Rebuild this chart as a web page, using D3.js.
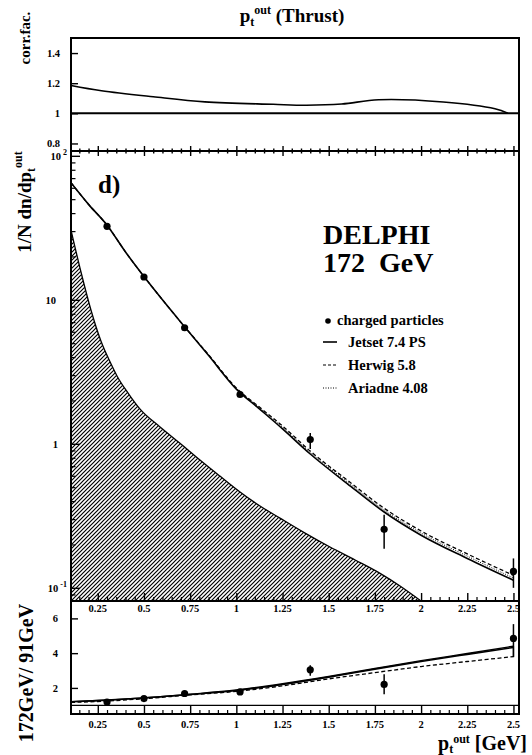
<!DOCTYPE html>
<html>
<head>
<meta charset="utf-8">
<script src="https://cdnjs.cloudflare.com/ajax/libs/d3/7.8.5/d3.min.js"></script>
<style>
  body { margin: 0; background: #fff; }
  svg text { font-family: "Liberation Serif", "DejaVu Serif", serif; font-weight: bold; fill: #000; }
</style>
</head>
<body>
<div id="chart"></div>
<script>
// ---- data ----

// correction factor (top panel)
var corrX = [0.105, 0.27, 0.55, 0.83, 1.2, 1.38, 1.57, 1.77, 2.12, 2.4, 2.47];
var corrY = [1.185, 1.15, 1.11, 1.076, 1.06, 1.054, 1.062, 1.09, 1.075, 1.03, 1.0];

// measured points, charged particles
var ptX      = [0.3, 0.5, 0.72, 1.02, 1.4, 1.8, 2.5];
var dataY    = [32.4, 14.4, 6.4, 2.2, 1.07, 0.255, 0.13];
var dataLo   = [31.5, 14.0, 6.2, 2.13, 0.92, 0.187, 0.10];
var dataHi   = [33.3, 14.8, 6.6, 2.27, 1.19, 0.322, 0.16];

// model curves (main panel)
var curveX   = [0.105, 0.2, 0.3, 0.4, 0.5, 0.6, 0.72, 0.85, 1.0, 1.12, 1.25, 1.4, 1.6, 1.8, 2.0, 2.25, 2.5];
var jetsetY  = [65, 46, 33, 21.5, 14.5, 10, 6.5, 4.1, 2.4, 1.77, 1.27, 0.85, 0.53, 0.336, 0.232, 0.16, 0.113];
var herwigY  = [65, 46, 33, 21.5, 14.5, 10, 6.5, 4.15, 2.44, 1.82, 1.33, 0.89, 0.56, 0.357, 0.248, 0.172, 0.122];
var ariadneY = [65, 46, 33, 21.5, 14.5, 10, 6.5, 4.12, 2.42, 1.8, 1.3, 0.87, 0.545, 0.346, 0.24, 0.166, 0.117];

// hatched contribution
var hatchX = [0.105, 0.159, 0.213, 0.267, 0.322, 0.354, 0.414, 0.479, 0.587, 0.695, 0.803, 0.911, 1.02,
              1.128, 1.236, 1.372, 1.507, 1.643, 1.778, 1.886, 2.0];
var hatchY = [30.5, 15.6, 8.5, 5.17, 3.58, 2.96, 2.25, 1.74, 1.31, 1.01, 0.772, 0.597, 0.463,
              0.370, 0.305, 0.24, 0.192, 0.156, 0.126, 0.103, 0.081];

// ratio 172 GeV / 91 GeV
var ratioY   = [1.19, 1.39, 1.68, 1.77, 3.04, 2.2, 4.85];
var ratioLo  = [1.12, 1.33, 1.60, 1.68, 2.7, 1.64, 3.77];
var ratioHi  = [1.26, 1.45, 1.76, 1.86, 3.3, 2.79, 5.67];
var ratioCurveX = [0.105, 0.25, 0.5, 0.75, 1.0, 1.25, 1.5, 1.75, 2.0, 2.25, 2.5];
var jetRatio    = [1.2, 1.27, 1.42, 1.62, 1.85, 2.2, 2.62, 3.08, 3.52, 3.93, 4.33];
var ariRatio    = [1.21, 1.28, 1.43, 1.64, 1.88, 2.24, 2.66, 3.12, 3.57, 3.98, 4.4];
var herRatio    = [1.17, 1.22, 1.38, 1.6, 1.8, 2.12, 2.52, 2.88, 3.23, 3.52, 3.8];

// ticks and labels
var xMajor      = [0.25, 0.5, 0.75, 1, 1.25, 1.5, 1.75, 2, 2.25, 2.5];
var xLabels     = ["0.25", "0.5", "0.75", "1", "1.25", "1.5", "1.75", "2", "2.25", "2.5"];
var corrTicks   = [0.8, 1, 1.2, 1.4];
var corrLabels  = ["0.8", "1", "1.2", "1.4"];
var mainTicks   = [0.1, 1, 10, 100];
var mainBase    = ["10", "1", "10", "10"];
var mainSup     = ["-1", "", "", "2"];
var ratioTicks  = [2, 4, 6];
var ratioLabels = ["2", "4", "6"];

var xMinor = d3.range(0.15, 2.52, 0.05).filter(function(v) {
  return Math.abs(v / 0.25 - Math.round(v / 0.25)) > 0.01;
});
var logMinor = [];
[0.01, 0.1, 1, 10].forEach(function(dec) {
  d3.range(2, 10).forEach(function(m) {
    var v = dec * m;
    if (v > 0.081 && v < 108) logMinor.push(v);
  });
});

// ---- scales ----
var x     = d3.scaleLinear().domain([0.105, 2.53]).range([71, 519]);
var yCorr = d3.scaleLinear().domain([0.75, 1.5]).range([151, 38]);
var yMain = d3.scaleLog().domain([0.081, 108]).range([601, 151]);
var yRat  = d3.scaleLinear().domain([0.5, 7]).range([714, 601]);

var svg = d3.select("#chart")
            .append("svg")
            .attr("width", 532)
            .attr("height", 755);

var defs = svg.append("defs");

// hatching
defs.append("pattern")
    .attr("id", "hatch")
    .attr("patternUnits", "userSpaceOnUse")
    .attr("width", 4)
    .attr("height", 4)
  .append("path")
    .attr("d", "M-1,1 l2,-2 M0,4 l4,-4 M3,5 l2,-2")
    .attr("stroke", "#000")
    .attr("stroke-width", 1.2);

defs.append("clipPath").attr("id", "clipMain")
  .append("rect").attr("x", 71).attr("y", 151).attr("width", 448).attr("height", 450);

// ---- top panel ----
var corrLine = d3.line()
                 .x(function(d) { return x(d[0]); })
                 .y(function(d) { return yCorr(d[1]); })
                 .curve(d3.curveCatmullRom);

svg.append("path")
    .datum([[0.105, 1], [2.53, 1]])
    .attr("d", corrLine)
    .attr("fill", "none")
    .attr("stroke", "#000")
    .attr("stroke-width", 2);

svg.append("path")
    .datum(d3.zip(corrX, corrY))
    .attr("d", corrLine)
    .attr("fill", "none")
    .attr("stroke", "#000")
    .attr("stroke-width", 1.6);

// ---- main panel ----
var main = svg.append("g").attr("clip-path", "url(#clipMain)");

var hatchArea = d3.area()
                  .x(function(d) { return x(d[0]); })
                  .y0(601)
                  .y1(function(d) { return yMain(d[1]); })
                  .curve(d3.curveMonotoneX);

main.append("path")
    .datum(d3.zip(hatchX, hatchY))
    .attr("d", hatchArea)
    .attr("fill", "url(#hatch)")
    .attr("stroke", "#000")
    .attr("stroke-width", 1.3);

var mainLine = d3.line()
                 .x(function(d) { return x(d[0]); })
                 .y(function(d) { return yMain(d[1]); })
                 .curve(d3.curveMonotoneX);

main.append("path")
    .datum(d3.zip(curveX, herwigY))
    .attr("d", mainLine)
    .attr("fill", "none")
    .attr("stroke", "#000")
    .attr("stroke-width", 1.3)
    .attr("stroke-dasharray", "4,2.5");

main.append("path")
    .datum(d3.zip(curveX, ariadneY))
    .attr("d", mainLine)
    .attr("fill", "none")
    .attr("stroke", "#000")
    .attr("stroke-width", 1)
    .attr("stroke-dasharray", "1,1.5");

main.append("path")
    .datum(d3.zip(curveX, jetsetY))
    .attr("d", mainLine)
    .attr("fill", "none")
    .attr("stroke", "#000")
    .attr("stroke-width", 1.6);

// error bars and points
main.selectAll("line.err")
    .data(ptX)
    .enter()
      .append("line")
      .attr("class", "err")
      .attr("x1", function(d) { return x(d); })
      .attr("x2", function(d) { return x(d); })
      .attr("y1", function(d, i) { return yMain(dataLo[i]); })
      .attr("y2", function(d, i) { return yMain(dataHi[i]); })
      .attr("stroke", "#000")
      .attr("stroke-width", 1.5);

main.selectAll("circle")
    .data(ptX)
    .enter()
      .append("circle")
      .attr("cx", function(d) { return x(d); })
      .attr("cy", function(d, i) { return yMain(dataY[i]); })
      .attr("r", 3.6)
      .attr("fill", "#000");

// ---- ratio panel ----
var ratLine = d3.line()
                .x(function(d) { return x(d[0]); })
                .y(function(d) { return yRat(d[1]); })
                .curve(d3.curveMonotoneX);

svg.append("path")
    .datum([[0.105, 1], [2.53, 1]])
    .attr("d", ratLine)
    .attr("fill", "none")
    .attr("stroke", "#000")
    .attr("stroke-width", 1.3);

svg.append("path")
    .datum(d3.zip(ratioCurveX, herRatio))
    .attr("d", ratLine)
    .attr("fill", "none")
    .attr("stroke", "#000")
    .attr("stroke-width", 1.3)
    .attr("stroke-dasharray", "4,2.5");

svg.append("path")
    .datum(d3.zip(ratioCurveX, ariRatio))
    .attr("d", ratLine)
    .attr("fill", "none")
    .attr("stroke", "#000")
    .attr("stroke-width", 1.4);

svg.append("path")
    .datum(d3.zip(ratioCurveX, jetRatio))
    .attr("d", ratLine)
    .attr("fill", "none")
    .attr("stroke", "#000")
    .attr("stroke-width", 1.6);

// closing step at the last bin
svg.append("path")
    .datum([[2.5, herRatio[herRatio.length - 1]], [2.5, ariRatio[ariRatio.length - 1]]])
    .attr("d", d3.line().x(function(d) { return x(d[0]); }).y(function(d) { return yRat(d[1]); }))
    .attr("stroke", "#000")
    .attr("stroke-width", 1.3);

svg.selectAll("line.rerr")
    .data(ptX)
    .enter()
      .append("line")
      .attr("class", "rerr")
      .attr("x1", function(d) { return x(d); })
      .attr("x2", function(d) { return x(d); })
      .attr("y1", function(d, i) { return yRat(ratioLo[i]); })
      .attr("y2", function(d, i) { return yRat(ratioHi[i]); })
      .attr("stroke", "#000")
      .attr("stroke-width", 1.5);

svg.selectAll("circle.rpt")
    .data(ptX)
    .enter()
      .append("circle")
      .attr("class", "rpt")
      .attr("cx", function(d) { return x(d); })
      .attr("cy", function(d, i) { return yRat(ratioY[i]); })
      .attr("r", 3.6)
      .attr("fill", "#000");

// ---- frames ----
[[38, 151], [151, 601], [601, 714]].forEach(function(p) {
  svg.append("rect")
      .attr("x", 71)
      .attr("y", p[0])
      .attr("width", 448)
      .attr("height", p[1] - p[0])
      .attr("fill", "none")
      .attr("stroke", "#000")
      .attr("stroke-width", 2);
});

// ---- axes ----
function styleAxis(g, w) {
  g.select(".domain").remove();
  g.selectAll("line").attr("stroke", "#000").attr("stroke-width", w);
}

// ticks crossing the line between top and main panel
[[d3.axisBottom, 5, xMajor], [d3.axisTop, 5, xMajor], [d3.axisBottom, 2.5, xMinor], [d3.axisTop, 2.5, xMinor]]
  .forEach(function(a) {
    svg.append("g")
        .attr("transform", "translate(0,151)")
        .call(a[0](x).tickValues(a[2]).tickSize(a[1]).tickFormat(""))
        .call(styleAxis, 1.4);
  });

// upward ticks on the bottom of main and ratio panels
[601, 714].forEach(function(yy) {
  svg.append("g")
      .attr("transform", "translate(0," + yy + ")")
      .call(d3.axisTop(x).tickValues(xMajor).tickSize(8).tickFormat(""))
      .call(styleAxis, 1.4);
  svg.append("g")
      .attr("transform", "translate(0," + yy + ")")
      .call(d3.axisTop(x).tickValues(xMinor).tickSize(4).tickFormat(""))
      .call(styleAxis, 1.2);
});

// x tick labels
[612, 728].forEach(function(yy) {
  svg.append("g").selectAll("text")
      .data(xMajor)
      .enter()
        .append("text")
        .attr("x", function(d) { return x(d); })
        .attr("y", yy)
        .attr("text-anchor", "middle")
        .attr("font-size", "10.5px")
        .text(function(d, i) { return xLabels[i]; });
});

// top panel y axis
var corrAxis = svg.append("g")
    .attr("transform", "translate(71,0)")
    .call(d3.axisLeft(yCorr).tickValues(corrTicks).tickSizeInner(-7).tickSizeOuter(0).tickPadding(11)
            .tickFormat(function(d, i) { return corrLabels[i]; }))
    .call(styleAxis, 1.4);
corrAxis.selectAll("text").attr("font-size", "10.5px").attr("font-family", null);

// main y axis
svg.append("g")
    .attr("transform", "translate(71,0)")
    .call(d3.axisLeft(yMain).tickValues(mainTicks).tickSizeInner(-9).tickSizeOuter(0).tickFormat(""))
    .call(styleAxis, 1.4);
svg.append("g")
    .attr("transform", "translate(71,0)")
    .call(d3.axisLeft(yMain).tickValues(logMinor).tickSizeInner(-4.5).tickSizeOuter(0).tickFormat(""))
    .call(styleAxis, 1.2);

var mainLab = svg.append("g").selectAll("text")
    .data(mainTicks)
    .enter()
      .append("text")
      .attr("x", function(d, i) { return mainSup[i] ? 67 : (mainBase[i] === "1" ? 58 : 56); })
      .attr("y", function(d) { return yMain(d) + 4; })
      .attr("text-anchor", "end")
      .attr("font-size", "10.5px");
mainLab.append("tspan").text(function(d, i) { return mainBase[i]; });
mainLab.append("tspan")
    .attr("dx", 2)
    .attr("dy", -5)
    .attr("font-size", "8px")
    .text(function(d, i) { return mainSup[i]; });

// ratio y axis
var ratAxis = svg.append("g")
    .attr("transform", "translate(71,0)")
    .call(d3.axisLeft(yRat).tickValues(ratioTicks).tickSizeInner(-7).tickSizeOuter(0).tickPadding(13)
            .tickFormat(function(d, i) { return ratioLabels[i]; }))
    .call(styleAxis, 1.4);
ratAxis.selectAll("text").attr("font-size", "10.5px").attr("font-family", null);

// ---- texts ----
var title = svg.append("text")
    .attr("x", 292)
    .attr("y", 22)
    .attr("text-anchor", "middle")
    .attr("font-size", "19px");
title.append("tspan").text("p");
title.append("tspan").attr("font-size", "12px").attr("dy", 4).text("t");
title.append("tspan").attr("font-size", "12px").attr("dy", -12).text("out");
title.append("tspan").attr("dy", 8).text(" (Thrust)");

svg.append("text")
    .attr("transform", "translate(30,38) rotate(-90)")
    .attr("text-anchor", "middle")
    .attr("font-size", "15px")
    .text("corr.fac.");

var yt = svg.append("text")
    .attr("transform", "translate(31,202) rotate(-90)")
    .attr("text-anchor", "middle")
    .attr("font-size", "19px");
yt.append("tspan").text("1/N dn/dp");
yt.append("tspan").attr("font-size", "12px").attr("dy", 4).text("t");
yt.append("tspan").attr("font-size", "12px").attr("dy", -13).text("out");

svg.append("text")
    .attr("transform", "translate(33,673) rotate(-90)")
    .attr("text-anchor", "middle")
    .attr("font-size", "20px")
    .text("172GeV/ 91GeV");

var xt = svg.append("text")
    .attr("x", 527)
    .attr("y", 750)
    .attr("text-anchor", "end")
    .attr("font-size", "20px");
xt.append("tspan").text("p");
xt.append("tspan").attr("font-size", "12px").attr("dy", 3).text("t");
xt.append("tspan").attr("font-size", "12px").attr("dy", -10).text("out");
xt.append("tspan").attr("dy", 7).text(" [GeV]");

svg.append("text")
    .attr("x", 98)
    .attr("y", 193)
    .attr("font-size", "25px")
    .text("d)");

svg.append("text")
    .attr("x", 323)
    .attr("y", 244)
    .attr("font-size", "28px")
    .text("DELPHI");

svg.append("text")
    .attr("x", 323)
    .attr("y", 272)
    .attr("font-size", "28px")
    .style("white-space", "pre")
    .text("172  GeV");

// ---- legend ----
svg.append("circle").attr("cx", 328).attr("cy", 321).attr("r", 2.8).attr("fill", "#000");
svg.append("text").attr("x", 337).attr("y", 325).attr("font-size", "14.5px").text("charged particles");

var legItems = [["Jetset 7.4 PS", null, 1.6, 347], ["Herwig 5.8", "3,2", 1.2, 370], ["Ariadne 4.08", "1,1.5", 1, 393]];
legItems.forEach(function(it) {
  svg.append("line")
      .attr("x1", 323).attr("x2", 337)
      .attr("y1", it[3] - 5).attr("y2", it[3] - 5)
      .attr("stroke", "#000")
      .attr("stroke-width", it[2])
      .attr("stroke-dasharray", it[1]);
  svg.append("text")
      .attr("x", 348)
      .attr("y", it[3])
      .attr("font-size", "14.5px")
      .text(it[0]);
});
</script>
</body>
</html>
